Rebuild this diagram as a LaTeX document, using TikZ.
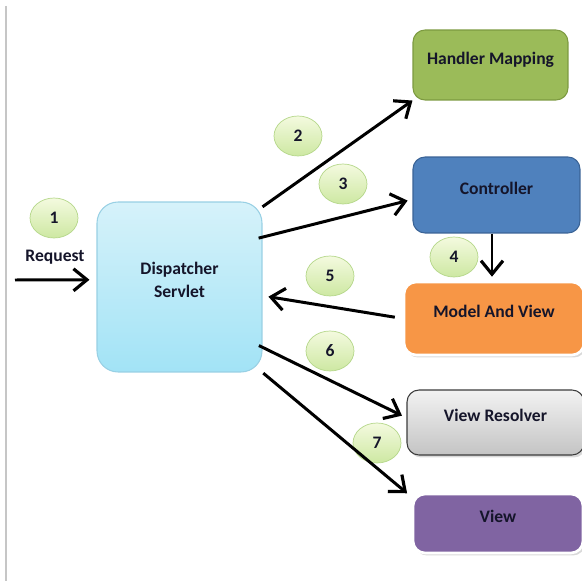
\documentclass[tikz,border=0pt]{standalone}
\usepackage{fontspec}
\setmainfont{Carlito}
\usepackage{xcolor}
\usetikzlibrary{shapes,arrows.meta,shadows}

\definecolor{servlettop}{HTML}{D6F2FA}
\definecolor{servletbottom}{HTML}{A2E3F6}
\definecolor{servletline}{HTML}{98D0E4}
\definecolor{mappingfill}{HTML}{9BBB59}
\definecolor{mappingline}{HTML}{7C9A40}
\definecolor{controllerfill}{HTML}{4F81BD}
\definecolor{controllerline}{HTML}{3A6396}
\definecolor{modelfill}{HTML}{F79646}
\definecolor{resolvertop}{HTML}{F2F2F2}
\definecolor{resolverbottom}{HTML}{C4C4C4}
\definecolor{resolverline}{HTML}{3C3C3C}
\definecolor{viewfill}{HTML}{8064A2}
\definecolor{steptop}{HTML}{F4FADF}
\definecolor{stepbottom}{HTML}{CDE8A2}
\definecolor{stepline}{HTML}{B5D78A}
\definecolor{labeltext}{HTML}{15152A}

\begin{document}
\begin{tikzpicture}[x=0.02cm, y=-0.02cm, font=\bfseries\fontsize{10}{13}\selectfont, text=labeltext]
        \tikzstyle{box} = [rectangle, rounded corners=0.24cm, text centered, text depth=0.8em, line width=0.6pt]
        \tikzstyle{stepmark} = [ellipse, draw=stepline, top color=steptop, bottom color=stepbottom, minimum width=0.96cm, minimum height=0.8cm, inner sep=0pt]
        \tikzstyle{line} = [draw, line width=1.7pt, -{Straight Barb[length=0.27cm, width=0.44cm, line width=1.8pt]}]
        \tikzstyle{lifted} = [drop shadow={shadow xshift=0.04cm, shadow yshift=-0.05cm, opacity=0.3}]

        % frame
        \useasboundingbox (0,0) rectangle (582,581);
        \draw [gray!45, line width=1pt] (6,6) -- (6,581);

        % boxes
        \node [box, draw=servletline, top color=servlettop, bottom color=servletbottom, minimum width=3.3cm, minimum height=3.4cm, rounded corners=0.42cm, align=center] (dispatcher) at (179.5,287) {Dispatcher\\Servlet};
        \node [box, draw=mappingline, fill=mappingfill, minimum width=3.1cm, minimum height=1.4cm] (handler_mapping) at (490.5,65) {Handler Mapping};
        \node [box, draw=controllerline, fill=controllerfill, minimum width=3.34cm, minimum height=1.52cm] (controller) at (496.5,195) {Controller};
        \node [box, lifted, draw=white, line width=1.5pt, fill=modelfill, minimum width=3.6cm, minimum height=1.46cm] (model_and_view) at (494,318.5) {Model And View};
        \node [box, lifted, draw=resolverline, top color=resolvertop, bottom color=resolverbottom, minimum width=3.54cm, minimum height=1.3cm] (view_resolver) at (495.5,422.5) {View Resolver};
        \node [box, lifted, draw=white, line width=1.5pt, fill=viewfill, minimum width=3.4cm, minimum height=1.18cm] (view) at (498,523.5) {View};

        % step numbers
        \node [stepmark] (step_one) at (54,218) {1};
        \node [stepmark] (step_two) at (298,136) {2};
        \node [stepmark] (step_three) at (343,184) {3};
        \node [stepmark] (step_four) at (454,257) {4};
        \node [stepmark] (step_five) at (330,276) {5};
        \node [stepmark] (step_six) at (330,351) {6};
        \node [stepmark] (step_seven) at (377,443) {7};

        \node (request) at (55,257) {Request};
        \coordinate (request_start) at (15,280);

        % flow
        \path [line, shorten >=0.14cm] (request_start) -- (dispatcher.175);
        \path [line] (dispatcher.44) -- (handler_mapping.south west);
        \path [line, shorten <=-0.08cm, shorten >=0.1cm] (dispatcher.31) -- (controller.183);
        \path [line, shorten >=0.08cm] ([xshift=-0.09cm]controller.south) -- ([xshift=-0.09cm]controller.south |- model_and_view.north);
        \path [line, shorten <=0.16cm, shorten >=0.12cm] (model_and_view.west) -- (dispatcher.-6);
        \path [line, shorten <=-0.08cm, shorten >=0.1cm] (dispatcher.-36.5) -- (view_resolver.177);
        \path [line, shorten <=0.02cm, shorten >=0.12cm] (dispatcher.south east) -- (view.163);

    \end{tikzpicture}
\end{document}
